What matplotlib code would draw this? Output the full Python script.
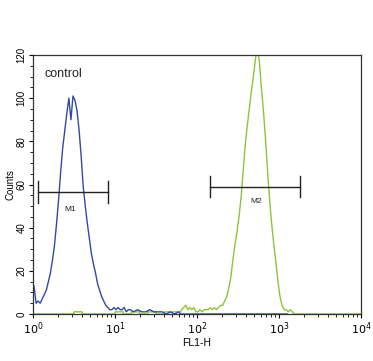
import numpy as np
import matplotlib
matplotlib.use("Agg")
import matplotlib.pyplot as plt
from matplotlib.ticker import MultipleLocator, LogLocator, NullFormatter

plt.rcParams['font.family'] = ['Liberation Sans', 'DejaVu Sans']

# ---- data (bin edges in log10 of FL1-H) ----
blue_edges_log = ([round(0.025 * i, 4) for i in range(0, 49)] +
                  [1.25, 1.3, 1.35, 1.4, 1.45, 1.5, 1.55, 1.6, 1.65, 1.7, 1.75, 1.8, 3.1])
blue_counts = [13, 5, 6, 5, 7, 9, 11, 15, 19, 25, 32, 42, 53, 66, 77, 85, 93, 100, 90, 101,
               99, 94, 85, 73, 59, 50, 42, 35, 28, 23, 19, 14, 11, 8, 6, 4, 3, 2, 2, 3,
               2, 3, 2, 2, 3, 1, 2, 2,
               1, 2, 1, 1, 2, 1, 1, 1, 0, 1, 0, 1,
               0]

green_edges_log = ([round(0.1 * i, 4) for i in range(0, 19)] +
                   [round(1.8 + 0.025 * i, 4) for i in range(1, 57)] + [4.0])
green_counts = [0, 0, 0, 0, 0, 1, 0, 0, 0, 0, 1, 0, 1, 0, 1, 0, 1, 1,
                2, 3, 4, 2, 3, 2, 3, 1, 1, 2, 1, 2, 2, 2, 3, 2, 3, 2,
                3, 4, 4, 6, 8, 12, 17, 25, 32, 38, 45, 54, 66, 78, 87, 95, 103, 110, 118, 124,
                116, 104, 93, 80, 65, 52, 41, 32, 24, 15, 8, 4, 2, 2, 1, 2, 1, 0,
                0]

markers = ["M1", "M2"]
marker_lo_log = [0.065, 2.16]
marker_hi_log = [0.91, 3.256]
marker_y = [56.5, 59.0]
marker_label_log = [0.46, 2.72]
marker_label_y = [48.5, 52.0]

blue_color = "#2f4aa6"
green_color = "#8cc43c"


def trace(edges_log, counts):
    xs, ys = [], []
    for lo, hi, c in zip(edges_log[:-1], edges_log[1:], counts):
        if hi - lo > 0.06:
            xs += [lo, hi]
            ys += [c, c]
        else:
            xs.append(0.5 * (lo + hi))
            ys.append(c)
    return 10 ** np.array(xs), np.array(ys)


fig = plt.figure(figsize=(3.73, 3.61), dpi=100)
ax = fig.add_axes([33 / 373, 1 - 314 / 361, (361 - 33) / 373, (314 - 55) / 361])

gx, gy = trace(green_edges_log, green_counts)
bx, by = trace(blue_edges_log, blue_counts)
ax.plot(np.r_[1.0, gx], np.r_[green_counts[0], gy], color=green_color, lw=1.0)
ax.plot(np.r_[1.0, bx], np.r_[blue_counts[0], by], color=blue_color, lw=1.0)

for name, lo, hi, y, lx, ly in zip(markers, marker_lo_log, marker_hi_log, marker_y,
                                   marker_label_log, marker_label_y):
    x0, x1 = 10 ** lo, 10 ** hi
    ax.plot([x0, x1], [y, y], color="#222222", lw=1.0)
    ax.plot([x0, x0], [y - 5, y + 5], color="#222222", lw=1.0)
    ax.plot([x1, x1], [y - 5, y + 5], color="#222222", lw=1.0)
    ax.text(10 ** lx, ly, name, fontsize=6, ha="center", va="center", color="#222222")

ax.text(10 ** 0.146, 111, "control", fontsize=9, ha="left", va="center", color="#222222")

ax.set_xscale("log")
ax.set_xlim(1, 1e4)
ax.set_ylim(0, 120)
ax.set_xticks([1, 10, 100, 1000, 10000])
ax.set_xticklabels([r"$10^0$", r"$10^1$", r"$10^2$", r"$10^3$", r"$10^4$"], fontsize=8)
ax.xaxis.set_minor_locator(LogLocator(base=10, subs=np.arange(2, 10)))
ax.xaxis.set_minor_formatter(NullFormatter())
ax.set_yticks([0, 20, 40, 60, 80, 100, 120])
ax.yaxis.set_minor_locator(MultipleLocator(5))
for lab in ax.get_yticklabels():
    lab.set_rotation(90)
    lab.set_va("center")
    lab.set_fontsize(7)
ax.tick_params(axis="both", which="major", length=3, width=0.8, direction="out", pad=1.5)
ax.tick_params(axis="both", which="minor", length=2, width=0.6, direction="out")
for s in ax.spines.values():
    s.set_linewidth(0.9)
    s.set_color("#333333")

ax.set_ylabel("Counts", fontsize=7, labelpad=1)
ax.set_xlabel("FL1-H", fontsize=7.5, labelpad=1)

fig.savefig("out.png", dpi=100)
